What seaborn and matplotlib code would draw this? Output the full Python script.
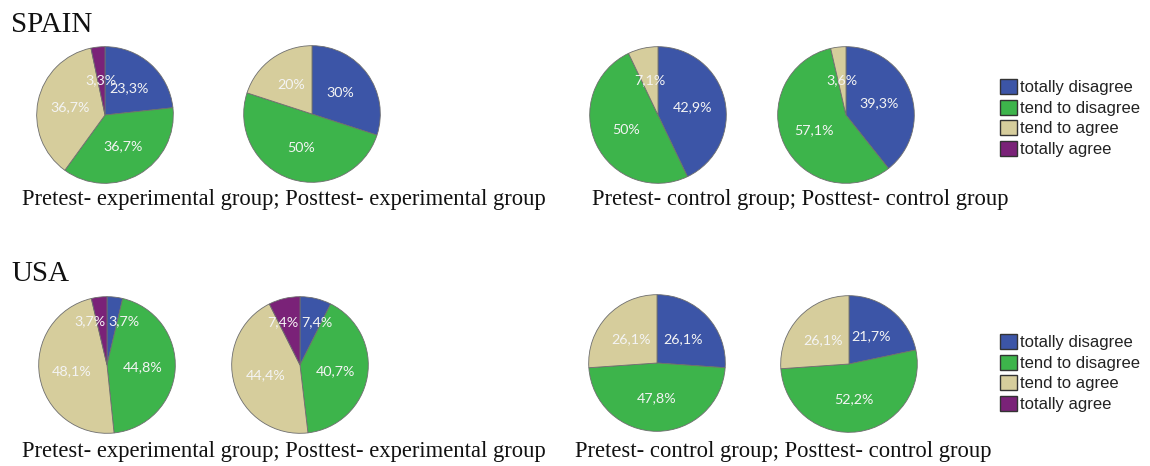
import numpy as np
import matplotlib
matplotlib.use("Agg")
import matplotlib.pyplot as plt
import matplotlib.patches as mpatches
import seaborn as sns

# answer categories (clockwise from 12 o'clock)
categories = ["totally disagree", "tend to disagree", "tend to agree", "totally agree"]

# percentages
spain_pre_exp = [23.3, 36.7, 36.7, 3.3]
spain_post_exp = [30, 50, 20, 0]
spain_pre_ctrl = [42.9, 50, 7.1, 0]
spain_post_ctrl = [39.3, 57.1, 3.6, 0]
usa_pre_exp = [3.7, 44.8, 48.1, 3.7]
usa_post_exp = [7.4, 40.7, 44.4, 7.4]
usa_pre_ctrl = [26.1, 47.8, 26.1, 0]
usa_post_ctrl = [21.7, 52.2, 26.1, 0]

countries = ["SPAIN", "USA"]
exp_caption = "Pretest- experimental group; Posttest- experimental group"
ctrl_caption = "Pretest- control group; Posttest- control group"

W, H = 1150, 466
RADIUS = 69


def fmt(v):
    return f"{v:g}".replace(".", ",") + "%"


def draw_pie(fig, values, colors, cx, cy):
    ax = fig.add_axes([(cx - RADIUS) / W, 1 - (cy + RADIUS) / H,
                       2 * RADIUS / W, 2 * RADIUS / H])
    keep = [i for i, v in enumerate(values) if v > 0]
    vals = [values[i] for i in keep]
    cols = [colors[i] for i in keep]
    wedges, _ = ax.pie(vals, colors=cols, startangle=90, counterclock=False,
                       wedgeprops=dict(edgecolor="#6e6e6e", linewidth=0.6))
    ax.set_xlim(-1.01, 1.01)
    ax.set_ylim(-1.01, 1.01)
    ax.set_aspect("equal")
    ax.axis("off")

    # label positions at mid angle, then push apart labels that collide
    pos = []
    for w in wedges:
        mid = np.deg2rad((w.theta1 + w.theta2) / 2)
        pos.append([0.52 * np.cos(mid), 0.52 * np.sin(mid)])
    order = sorted(range(len(pos)), key=lambda k: pos[k][0])
    for a, b in zip(order[:-1], order[1:]):
        dx = pos[b][0] - pos[a][0]
        if abs(pos[b][1] - pos[a][1]) < 0.25 and dx < 0.5:
            shift = (0.5 - dx) / 2
            pos[a][0] -= shift
            pos[b][0] += shift
            pos[a][1] += 0.12
            pos[b][1] += 0.12
    for (x, y), v in zip(pos, vals):
        ax.text(x, y, fmt(v), ha="center", va="center", color="#f4f4f4",
                fontsize=10.3, family=["Lato", "DejaVu Sans"])
    return ax


def main():
    sns.set_theme(style="white")
    plt.rcParams["font.family"] = ["Liberation Serif", "DejaVu Serif"]
    palette = sns.color_palette(["#3c55a7", "#3db44b", "#d6cd9c", "#7a2278"])

    fig = plt.figure(figsize=(W / 100, H / 100), dpi=100)
    fig.patch.set_facecolor("white")

    groups = [
        [spain_pre_exp, spain_post_exp, spain_pre_ctrl, spain_post_ctrl],
        [usa_pre_exp, usa_post_exp, usa_pre_ctrl, usa_post_ctrl],
    ]
    centers = [
        [(105, 115), (312, 114), (658, 115), (846, 115)],
        [(107, 365), (300, 365), (657, 363), (849, 364)],
    ]
    title_y = [32, 281]
    caption_y = [205, 457]
    ctrl_x = [592, 575]
    legend_y = [118, 373]

    for row in range(2):
        for vals, (cx, cy) in zip(groups[row], centers[row]):
            draw_pie(fig, vals, palette, cx, cy)

        fig.text(11 / W, 1 - title_y[row] / H, countries[row], fontsize=21,
                 va="baseline", ha="left", color="#111111")
        fig.text(22 / W, 1 - caption_y[row] / H, exp_caption, fontsize=16.3,
                 va="baseline", ha="left", color="#111111")
        fig.text(ctrl_x[row] / W, 1 - caption_y[row] / H, ctrl_caption,
                 fontsize=16.3, va="baseline", ha="left", color="#111111")

        handles = [mpatches.Patch(facecolor=c, edgecolor="#333333", linewidth=1)
                   for c in palette]
        fig.legend(handles, categories, loc="center left",
                   bbox_to_anchor=(1000 / W, 1 - legend_y[row] / H),
                   frameon=False, borderpad=0, borderaxespad=0,
                   handlelength=1.0, handleheight=1.0, handletextpad=0.2,
                   labelspacing=0.26,
                   prop={"family": ["Liberation Sans", "DejaVu Sans"], "size": 12},
                   labelcolor="#222222")

    fig.savefig("out.png", dpi=100, facecolor="white")


if __name__ == "__main__":
    main()
